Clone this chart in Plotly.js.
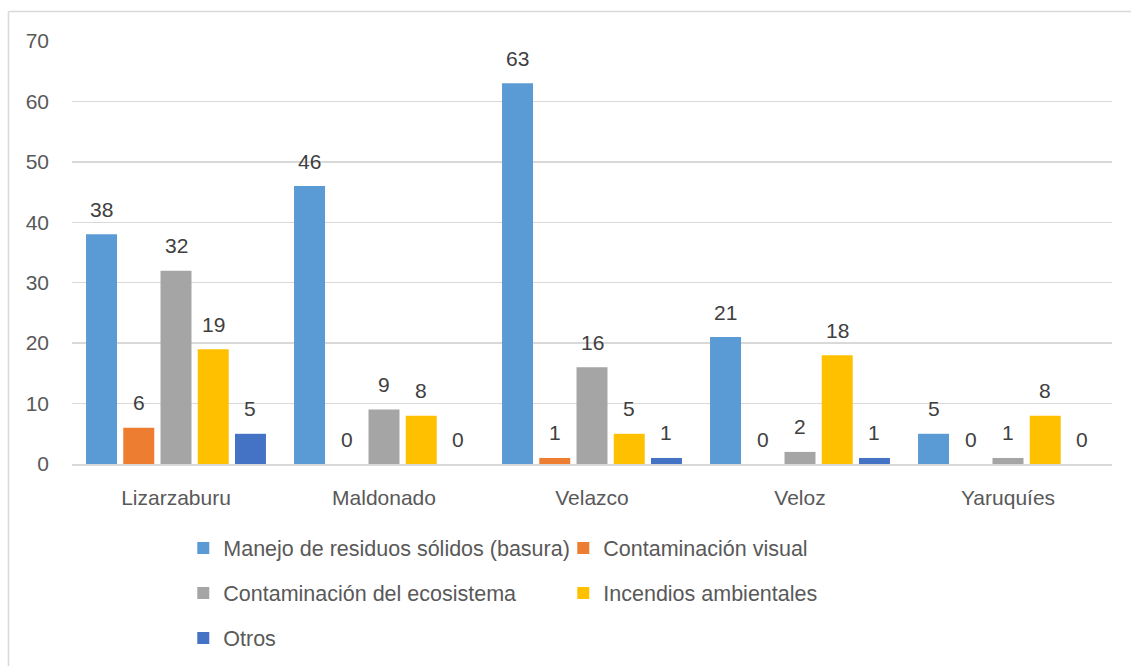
<!DOCTYPE html>
<html>
<head>
<meta charset="utf-8">
<script src="https://cdn.plot.ly/plotly-3.0.1.min.js"></script>
<style>html,body{margin:0;padding:0;background:#fff;}#chart{width:1131px;height:666px;}</style>
</head>
<body>
<div id="chart"></div>
<script>
const categories = ["Lizarzaburu", "Maldonado", "Velazco", "Veloz", "Yaruquíes"];
const seriesNames = [
  "Manejo de residuos sólidos (basura)",
  "Contaminación visual",
  "Contaminación del ecosistema",
  "Incendios ambientales",
  "Otros"
];
const manejo = [38, 46, 63, 21, 5];
const visual = [6, 0, 1, 0, 0];
const ecosistema = [32, 9, 16, 2, 1];
const incendios = [19, 8, 5, 18, 8];
const otros = [5, 0, 1, 1, 0];
const yTicks = [0, 10, 20, 30, 40, 50, 60, 70];

const seriesValues = [manejo, visual, ecosistema, incendios, otros];
const colors = ["#5b9bd5", "#ed7d31", "#a5a5a5", "#ffc000", "#4472c4"];
const legendIds = ["legend", "legend", "legend2", "legend2", "legend3"];

const pitch = 0.179, barW = 0.149;
const offsets = seriesValues.map((_, j) => -2.5 * pitch + j * pitch + (pitch - barW) / 2);

const font = "Liberation Sans, Arial, sans-serif";

const traces = seriesValues.map((vals, j) => ({
  type: "bar",
  name: seriesNames[j],
  x: categories,
  y: vals,
  width: barW,
  offset: offsets[j],
  marker: {color: colors[j]},
  legend: legendIds[j],
  hoverinfo: "skip"
}));

const annotations = [];
seriesValues.forEach((vals, j) => {
  vals.forEach((v, i) => {
    annotations.push({
      x: i + offsets[j] + barW / 2,
      y: v,
      xref: "x", yref: "y",
      text: String(v),
      showarrow: false,
      yanchor: "middle",
      yshift: 25,
      font: {family: font, size: 21, color: "#404040"}
    });
  });
});

const legendBase = {
  orientation: "h",
  x: 0.107, xanchor: "left",
  yanchor: "middle",
  entrywidth: 335,
  font: {family: font, size: 21.5, color: "#595959"},
  bgcolor: "rgba(0,0,0,0)",
  traceorder: "normal"
};

const layout = {
  width: 1131, height: 666,
  margin: {l: 72, r: 19, t: 41, b: 202, autoexpand: false},
  paper_bgcolor: "#ffffff",
  plot_bgcolor: "#ffffff",
  barmode: "overlay",
  showlegend: true,
  font: {family: font, size: 21, color: "#595959"},
  xaxis: {
    type: "category",
    range: [-0.5, 4.5],
    showgrid: false,
    zeroline: false,
    showline: true,
    linecolor: "#d9d9d9",
    linewidth: 1.5,
    ticks: "",
    ticklabelstandoff: 14,
    tickfont: {family: font, size: 21, color: "#595959"},
    automargin: false,
    fixedrange: true
  },
  yaxis: {
    range: [0, 70],
    tickvals: yTicks,
    showgrid: true,
    gridcolor: "#d9d9d9",
    gridwidth: 1.3,
    zeroline: false,
    showline: false,
    ticks: "",
    ticklabelstandoff: 22,
    tickfont: {family: font, size: 21, color: "#595959"},
    automargin: false,
    fixedrange: true
  },
  legend: Object.assign({}, legendBase, {y: -0.1986}),
  legend2: Object.assign({}, legendBase, {y: -0.305}),
  legend3: Object.assign({}, legendBase, {y: -0.4113}),
  annotations: annotations,
  shapes: [
    {type: "line", xref: "paper", yref: "paper", x0: -0.0611, x1: -0.0611, y0: -0.49, y1: 1.0697,
     line: {color: "#d9d9d9", width: 1.5}},
    {type: "line", xref: "paper", yref: "paper", x0: -0.0611, x1: 1.03, y0: 1.0697, y1: 1.0697,
     line: {color: "#d9d9d9", width: 1.5}}
  ]
};

Plotly.newPlot("chart", traces, layout, {displayModeBar: false, staticPlot: true});
</script>
</body>
</html>
